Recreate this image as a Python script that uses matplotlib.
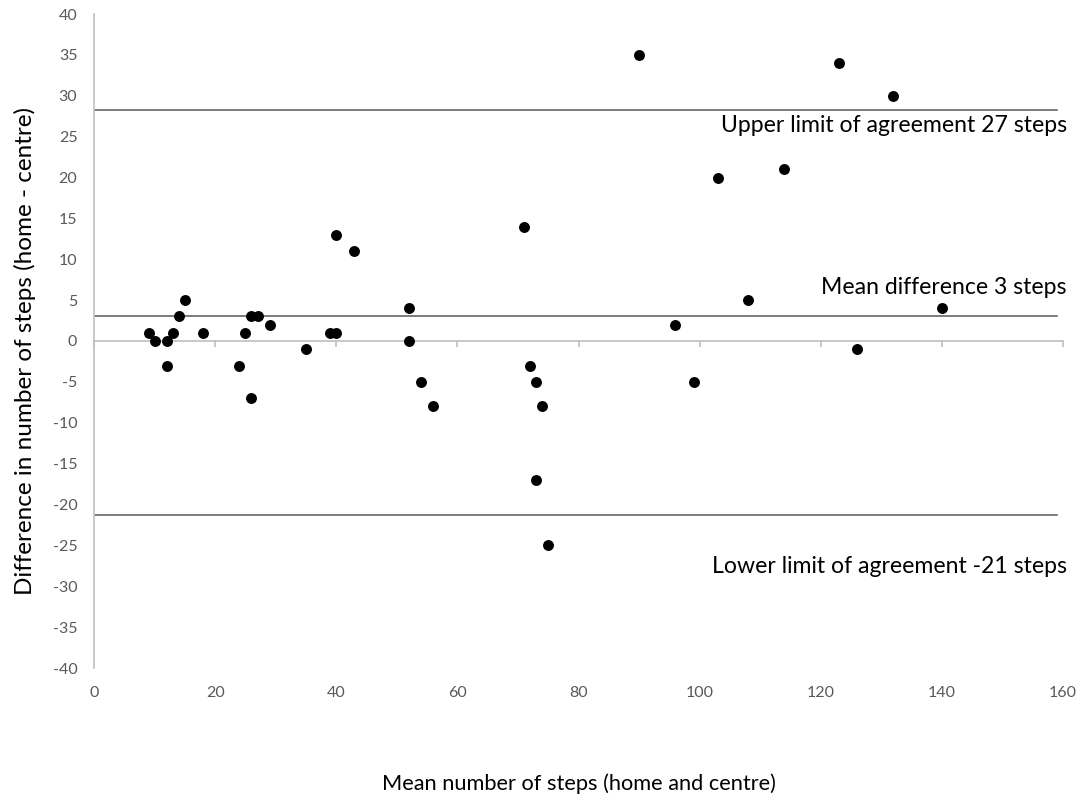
import matplotlib
matplotlib.use("Agg")
import matplotlib.pyplot as plt

# Data: mean steps (x) vs difference home - centre (y)
mean_steps = [9, 10, 12, 12, 13, 14, 15, 18, 24, 25, 26, 26, 27, 29, 35, 39, 40, 40, 43,
              52, 52, 54, 56, 71, 72, 73, 73, 74, 75, 90, 96, 99, 103, 108, 114, 123, 126, 132, 140]
diff_steps = [1, 0, -3, 0, 1, 3, 5, 1, -3, 1, 3, -7, 3, 2, -1, 1, 1, 13, 11,
              4, 0, -5, -8, 14, -3, -5, -17, -8, -25, 35, 2, -5, 20, 5, 21, 34, -1, 30, 4]

upper_loa = 28.2
mean_diff = 3.1
lower_loa = -21.3
line_x = [0, 159]

labels = ["Upper limit of agreement 27 steps",
          "Mean difference 3 steps",
          "Lower limit of agreement -21 steps"]
label_y = [26.4, 6.6, -27.6]

x_ticks = [0, 20, 40, 60, 80, 100, 120, 140, 160]
y_ticks = list(range(-40, 45, 5))

plt.rcParams['font.family'] = ['Lato', 'DejaVu Sans']
plt.rcParams['axes.unicode_minus'] = False

fig = plt.figure(figsize=(10.88, 7.95), dpi=100)
ax = fig.add_axes([94/1088, 1 - 668/795, 969/1088, 654/795])
ax.set_xlim(0, 160)
ax.set_ylim(-40, 40)

for s in ['top', 'right']:
    ax.spines[s].set_visible(False)
for s in ['left', 'bottom']:
    ax.spines[s].set_color('#bfbfbf')
    ax.spines[s].set_linewidth(1.2)
ax.spines['bottom'].set_position(('data', 0))
ax.spines['bottom'].set_zorder(0)

ax.set_xticks(x_ticks)
ax.tick_params(axis='x', direction='out', length=4, width=1.2, color='#bfbfbf', labelbottom=False)
ax.set_yticks(y_ticks)
ax.tick_params(axis='y', length=0, pad=12, labelcolor='#595959', labelsize=11.5)

sec = ax.secondary_xaxis(0)
sec.spines['bottom'].set_visible(False)
sec.set_xticks(x_ticks)
sec.tick_params(length=0, pad=13, labelcolor='#595959', labelsize=11.5)
sec.set_xlabel("Mean number of steps (home and centre)", fontsize=15.7, color='#000000', labelpad=53)

ax.set_ylabel("Difference in number of steps (home - centre)", fontsize=17.5, color='#000000')
ax.yaxis.set_label_coords(-0.060, 0.485)

for yv in [upper_loa, mean_diff, lower_loa]:
    ax.plot(line_x, [yv, yv], color='#595959', linewidth=1.1, zorder=2)

ax.scatter(mean_steps, diff_steps, s=62, color='black', zorder=3, linewidths=0)

for t, yv in zip(labels, label_y):
    ax.text(160.6, yv, t, ha='right', va='center', fontsize=16.6, color='#000000')

fig.savefig("out.png", dpi=100)
